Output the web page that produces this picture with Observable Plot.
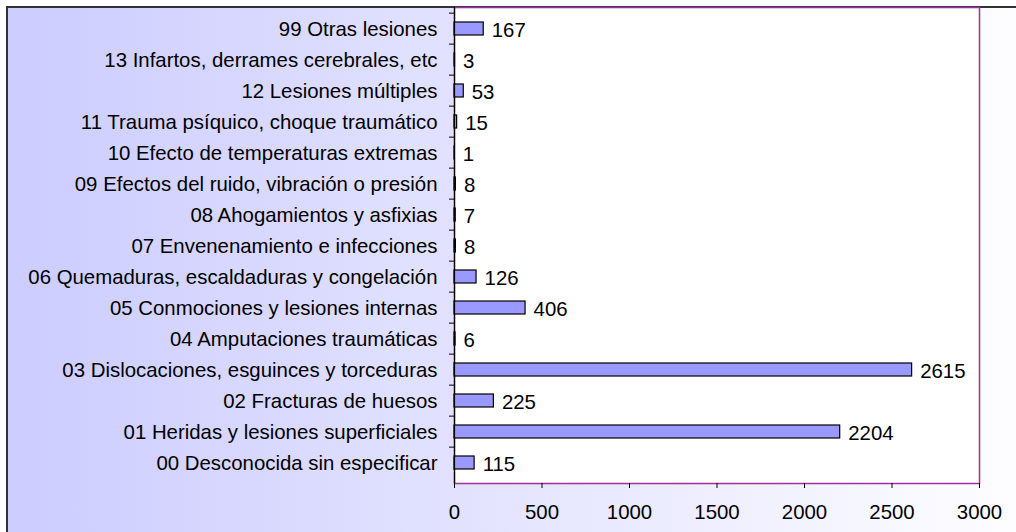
<!DOCTYPE html>
<html>
<head>
<meta charset="utf-8">
<script src="https://cdn.jsdelivr.net/npm/d3@7"></script>
<script src="https://cdn.jsdelivr.net/npm/@observablehq/plot@0.6"></script>
<style>
  html, body { margin: 0; padding: 0; background: #ffffff; }
  #wrap { position: relative; width: 1016px; height: 532px; overflow: hidden; }
  #bg { position: absolute; left: 6px; top: 6px; width: 1040px; height: 560px;
        border-left: 2px solid #333333; border-top: 2px solid #333333;
        background: linear-gradient(to right, #ccccff, #ffffff); }
  #chart { position: absolute; left: 0; top: 0; }
  #chart svg { background: transparent !important; }
</style>
</head>
<body>
<div id="wrap"><div id="bg"></div><div id="chart"></div></div>
<script>
const categories = [
  "99 Otras lesiones",
  "13 Infartos, derrames cerebrales, etc",
  "12 Lesiones múltiples",
  "11 Trauma psíquico, choque traumático",
  "10 Efecto de temperaturas extremas",
  "09 Efectos del ruido, vibración o presión",
  "08 Ahogamientos y asfixias",
  "07 Envenenamiento e infecciones",
  "06 Quemaduras, escaldaduras y congelación",
  "05 Conmociones y lesiones internas",
  "04 Amputaciones traumáticas",
  "03 Dislocaciones, esguinces y torceduras",
  "02 Fracturas de huesos",
  "01 Heridas y lesiones superficiales",
  "00 Desconocida sin especificar"
];
const values = [167, 3, 53, 15, 1, 8, 7, 8, 126, 406, 6, 2615, 225, 2204, 115];
const xTicks = [0, 500, 1000, 1500, 2000, 2500, 3000];

const data = categories.map((c, i) => ({category: c, value: values[i]}));
const font = "'Liberation Sans', Arial, sans-serif";

const chart = Plot.plot({
  width: 1016,
  height: 532,
  marginLeft: 454,
  marginRight: 37,
  marginTop: 7,
  marginBottom: 49,
  style: {fontFamily: font, fontSize: "20.4px", color: "#000", background: "transparent"},
  x: {domain: [0, 3000]},
  y: {domain: categories, paddingInner: 0.59, paddingOuter: 0.295},
  marks: [
    Plot.frame({fill: "white", stroke: "#993399", strokeWidth: 1.5}),
    Plot.axisX({ticks: xTicks, tickSize: 5, tickPadding: 16, tickFormat: d => String(d), fontSize: 20.4, fill: "#000", stroke: "#000", label: null}),
    Plot.axisY({tickSize: 0, tickPadding: 17, fontSize: 20.4, label: null, fill: "#000"}),
    Plot.axisY({tickSize: 5, text: null, dy: -31.733 / 2, stroke: "#000", label: null}),
    Plot.barX(data, {y: "category", x: "value", fill: "#9999ff", stroke: "#000", strokeWidth: 1.2}),
    Plot.ruleX([0], {stroke: "#000", strokeWidth: 1.2}),
    Plot.text(data, {y: "category", x: "value", text: d => String(d.value), textAnchor: "start", dx: 8, dy: 1, fontSize: 20.4, fill: "#000"})
  ]
});
document.getElementById("chart").appendChild(chart);
</script>
</body>
</html>
